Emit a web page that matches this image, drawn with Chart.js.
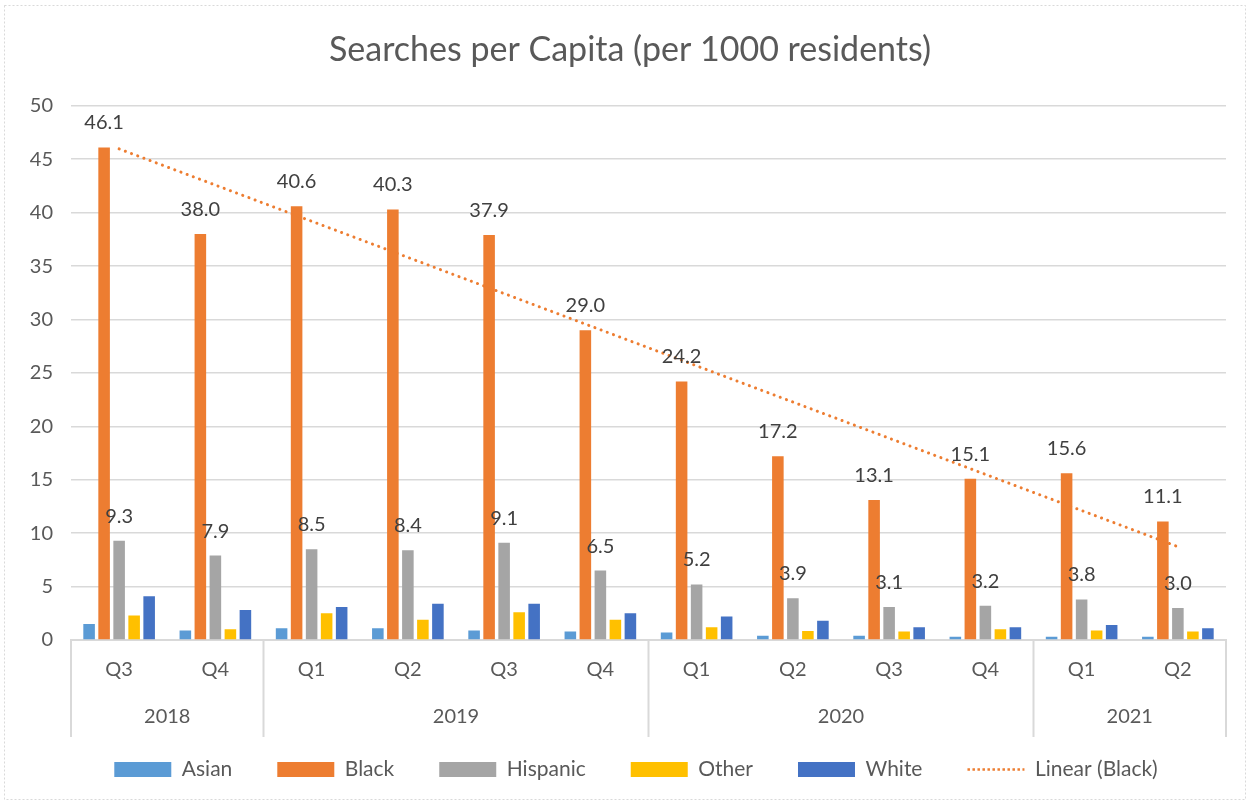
<!DOCTYPE html>
<html><head><meta charset="utf-8">
<script src="https://cdn.jsdelivr.net/npm/chart.js@4.4.1/dist/chart.umd.min.js"></script>
<style>html,body{margin:0;padding:0;background:#fff}#wrap{width:1250px;height:804px;position:relative}</style>
</head><body><div id="wrap"><canvas id="c" width="1250" height="804"></canvas></div>
<script>
const chartTitle = 'Searches per Capita (per 1000 residents)';
const quarters = ['Q3','Q4','Q1','Q2','Q3','Q4','Q1','Q2','Q3','Q4','Q1','Q2'];
const years    = ['2018','2018','2019','2019','2019','2019','2020','2020','2020','2020','2021','2021'];
const asian    = [1.5, 0.9, 1.1, 1.1, 0.9, 0.8, 0.7, 0.4, 0.4, 0.3, 0.3, 0.3];
const black    = [46.1, 38.0, 40.6, 40.3, 37.9, 29.0, 24.2, 17.2, 13.1, 15.1, 15.6, 11.1];
const hispanic = [9.3, 7.9, 8.5, 8.4, 9.1, 6.5, 5.2, 3.9, 3.1, 3.2, 3.8, 3.0];
const other    = [2.3, 1.0, 2.5, 1.9, 2.6, 1.9, 1.2, 0.85, 0.8, 1.0, 0.9, 0.8];
const white    = [4.1, 2.8, 3.1, 3.4, 3.4, 2.5, 2.2, 1.8, 1.2, 1.2, 1.4, 1.1];
const labeledSeries = ['Black', 'Hispanic'];
const trendLabel = 'Linear (Black)';
const yMin = 0, yMax = 50, yStep = 5;

// Linear trendline (least squares) of the Black series, as Excel computes it
function linearTrend(vals) {
  const n = vals.length;
  const xs = vals.map((_, i) => i + 1);
  const mx = xs.reduce((a, b) => a + b, 0) / n;
  const my = vals.reduce((a, b) => a + b, 0) / n;
  let sxy = 0, sxx = 0;
  for (let i = 0; i < n; i++) { sxy += (xs[i] - mx) * (vals[i] - my); sxx += (xs[i] - mx) ** 2; }
  const b = sxy / sxx, a = my - b * mx;
  return xs.map(x => a + b * x);
}
const blackTrend = linearTrend(black);

const FONT = 'Lato, "Open Sans", sans-serif';
const TXT = '#595959';
const GRID = '#d9d9d9';

const bgBorder = {
  id: 'bgBorder',
  beforeDraw(chart) {
    const ctx = chart.ctx;
    ctx.save();
    ctx.fillStyle = '#fff';
    ctx.fillRect(0, 0, chart.width, chart.height);
    ctx.strokeStyle = '#d9d9d9';
    ctx.lineWidth = 1;
    ctx.setLineDash([2, 2]);
    ctx.strokeRect(4.5, 5.5, chart.width - 9, chart.height - 10);
    ctx.restore();
  }
};

// nudge title and legend to be centred on the full frame, like the original
const centreBlocks = {
  id: 'centreBlocks',
  afterLayout(chart) {
    if (chart.titleBlock) { chart.titleBlock.left += 17; chart.titleBlock.right += 17; }
    if (chart.legend) { chart.legend.left += 23; chart.legend.right += 23; }
  }
};

const yearGroups = {
  id: 'yearGroups',
  afterDraw(chart) {
    const ctx = chart.ctx;
    const xs = chart.scales.x;
    const area = chart.chartArea;
    const half = (xs.getPixelForValue(1) - xs.getPixelForValue(0)) / 2;
    const top = area.bottom, bottom = area.bottom + 97;
    ctx.save();
    ctx.strokeStyle = GRID;
    ctx.lineWidth = 2;
    ctx.fillStyle = TXT;
    ctx.font = '20px ' + FONT;
    ctx.textAlign = 'center';
    ctx.textBaseline = 'middle';
    let start = 0;
    for (let i = 1; i <= years.length; i++) {
      if (i === years.length || years[i] !== years[start]) {
        const x0 = xs.getPixelForValue(start) - half;
        const x1 = xs.getPixelForValue(i - 1) + half;
        ctx.fillText(years[start], (x0 + x1) / 2, area.bottom + 77);
        start = i;
      }
    }
    for (let i = 0; i <= years.length; i++) {
      if (i === 0 || i === years.length || years[i] !== years[i - 1]) {
        const x = i < years.length ? xs.getPixelForValue(i) - half : xs.getPixelForValue(i - 1) + half;
        ctx.beginPath(); ctx.moveTo(x, top); ctx.lineTo(x, bottom); ctx.stroke();
      }
    }
    ctx.restore();
  }
};

const valueLabels = {
  id: 'valueLabels',
  afterDatasetsDraw(chart) {
    const ctx = chart.ctx;
    ctx.save();
    ctx.fillStyle = '#404040';
    ctx.font = '20px ' + FONT;
    ctx.textAlign = 'center';
    ctx.textBaseline = 'alphabetic';
    chart.data.datasets.forEach((ds, di) => {
      if (!labeledSeries.includes(ds.label)) return;
      const meta = chart.getDatasetMeta(di);
      meta.data.forEach((bar, i) => {
        ctx.fillText(Number(ds.data[i]).toFixed(1), bar.x, bar.y - 18);
      });
    });
    ctx.restore();
  }
};

const barOpts = { categoryPercentage: 0.78, barPercentage: 0.77, borderWidth: 0, pointStyle: 'rect', order: 2 };

new Chart(document.getElementById('c'), {
  data: {
    labels: quarters,
    datasets: [
      { type: 'bar', label: 'Asian', data: asian, backgroundColor: '#5B9BD5', ...barOpts },
      { type: 'bar', label: 'Black', data: black, backgroundColor: '#ED7D31', ...barOpts },
      { type: 'bar', label: 'Hispanic', data: hispanic, backgroundColor: '#A5A5A5', ...barOpts },
      { type: 'bar', label: 'Other', data: other, backgroundColor: '#FFC000', ...barOpts },
      { type: 'bar', label: 'White', data: white, backgroundColor: '#4472C4', ...barOpts },
      { type: 'line', label: trendLabel, data: blackTrend, borderColor: '#ED7D31', backgroundColor: '#ED7D31',
        borderWidth: 3, borderDash: [0.1, 6.5], borderCapStyle: 'round', pointRadius: 0, pointStyle: 'line',
        fill: false, tension: 0, order: 1 }
    ]
  },
  options: {
    responsive: false,
    animation: false,
    devicePixelRatio: 1,
    layout: { padding: { left: 0, right: 24, top: 0, bottom: 14 } },
    plugins: {
      title: { display: true, text: chartTitle, color: TXT, font: { family: FONT, size: 34, weight: 'normal', lineHeight: 1.2 },
               padding: { top: 30, bottom: 35 } },
      legend: { position: 'bottom',
        labels: { color: TXT, font: { family: FONT, size: 21 }, usePointStyle: true, pointStyleWidth: 57, boxHeight: 15, padding: 45,
                  sort: (a, b) => a.datasetIndex - b.datasetIndex,
                  generateLabels(chart) {
                    const items = Chart.defaults.plugins.legend.labels.generateLabels(chart);
                    items.forEach(it => {
                      if (it.text === trendLabel) {
                        it.lineDash = [2.5, 2.5];
                        it.lineWidth = 2.5;
                        it.lineCap = 'butt';
                        it.strokeStyle = '#ED7D31';
                      } else {
                        it.lineWidth = 0;
                      }
                    });
                    return items;
                  } } },
      tooltip: { enabled: false }
    },
    scales: {
      x: {
        grid: { display: false },
        border: { display: true, color: GRID, width: 2 },
        ticks: { color: TXT, font: { family: FONT, size: 20 }, padding: 10, maxRotation: 0 },
        afterFit(s) { s.height = 74; }
      },
      y: {
        min: yMin, max: yMax,
        grid: { color: GRID, lineWidth: 1.5, drawTicks: false },
        border: { display: false },
        ticks: { stepSize: yStep, color: TXT, font: { family: FONT, size: 20 }, padding: 18 },
        afterFit(s) { s.width = 71; }
      }
    }
  },
  plugins: [bgBorder, centreBlocks, yearGroups, valueLabels]
});
</script></body></html>
